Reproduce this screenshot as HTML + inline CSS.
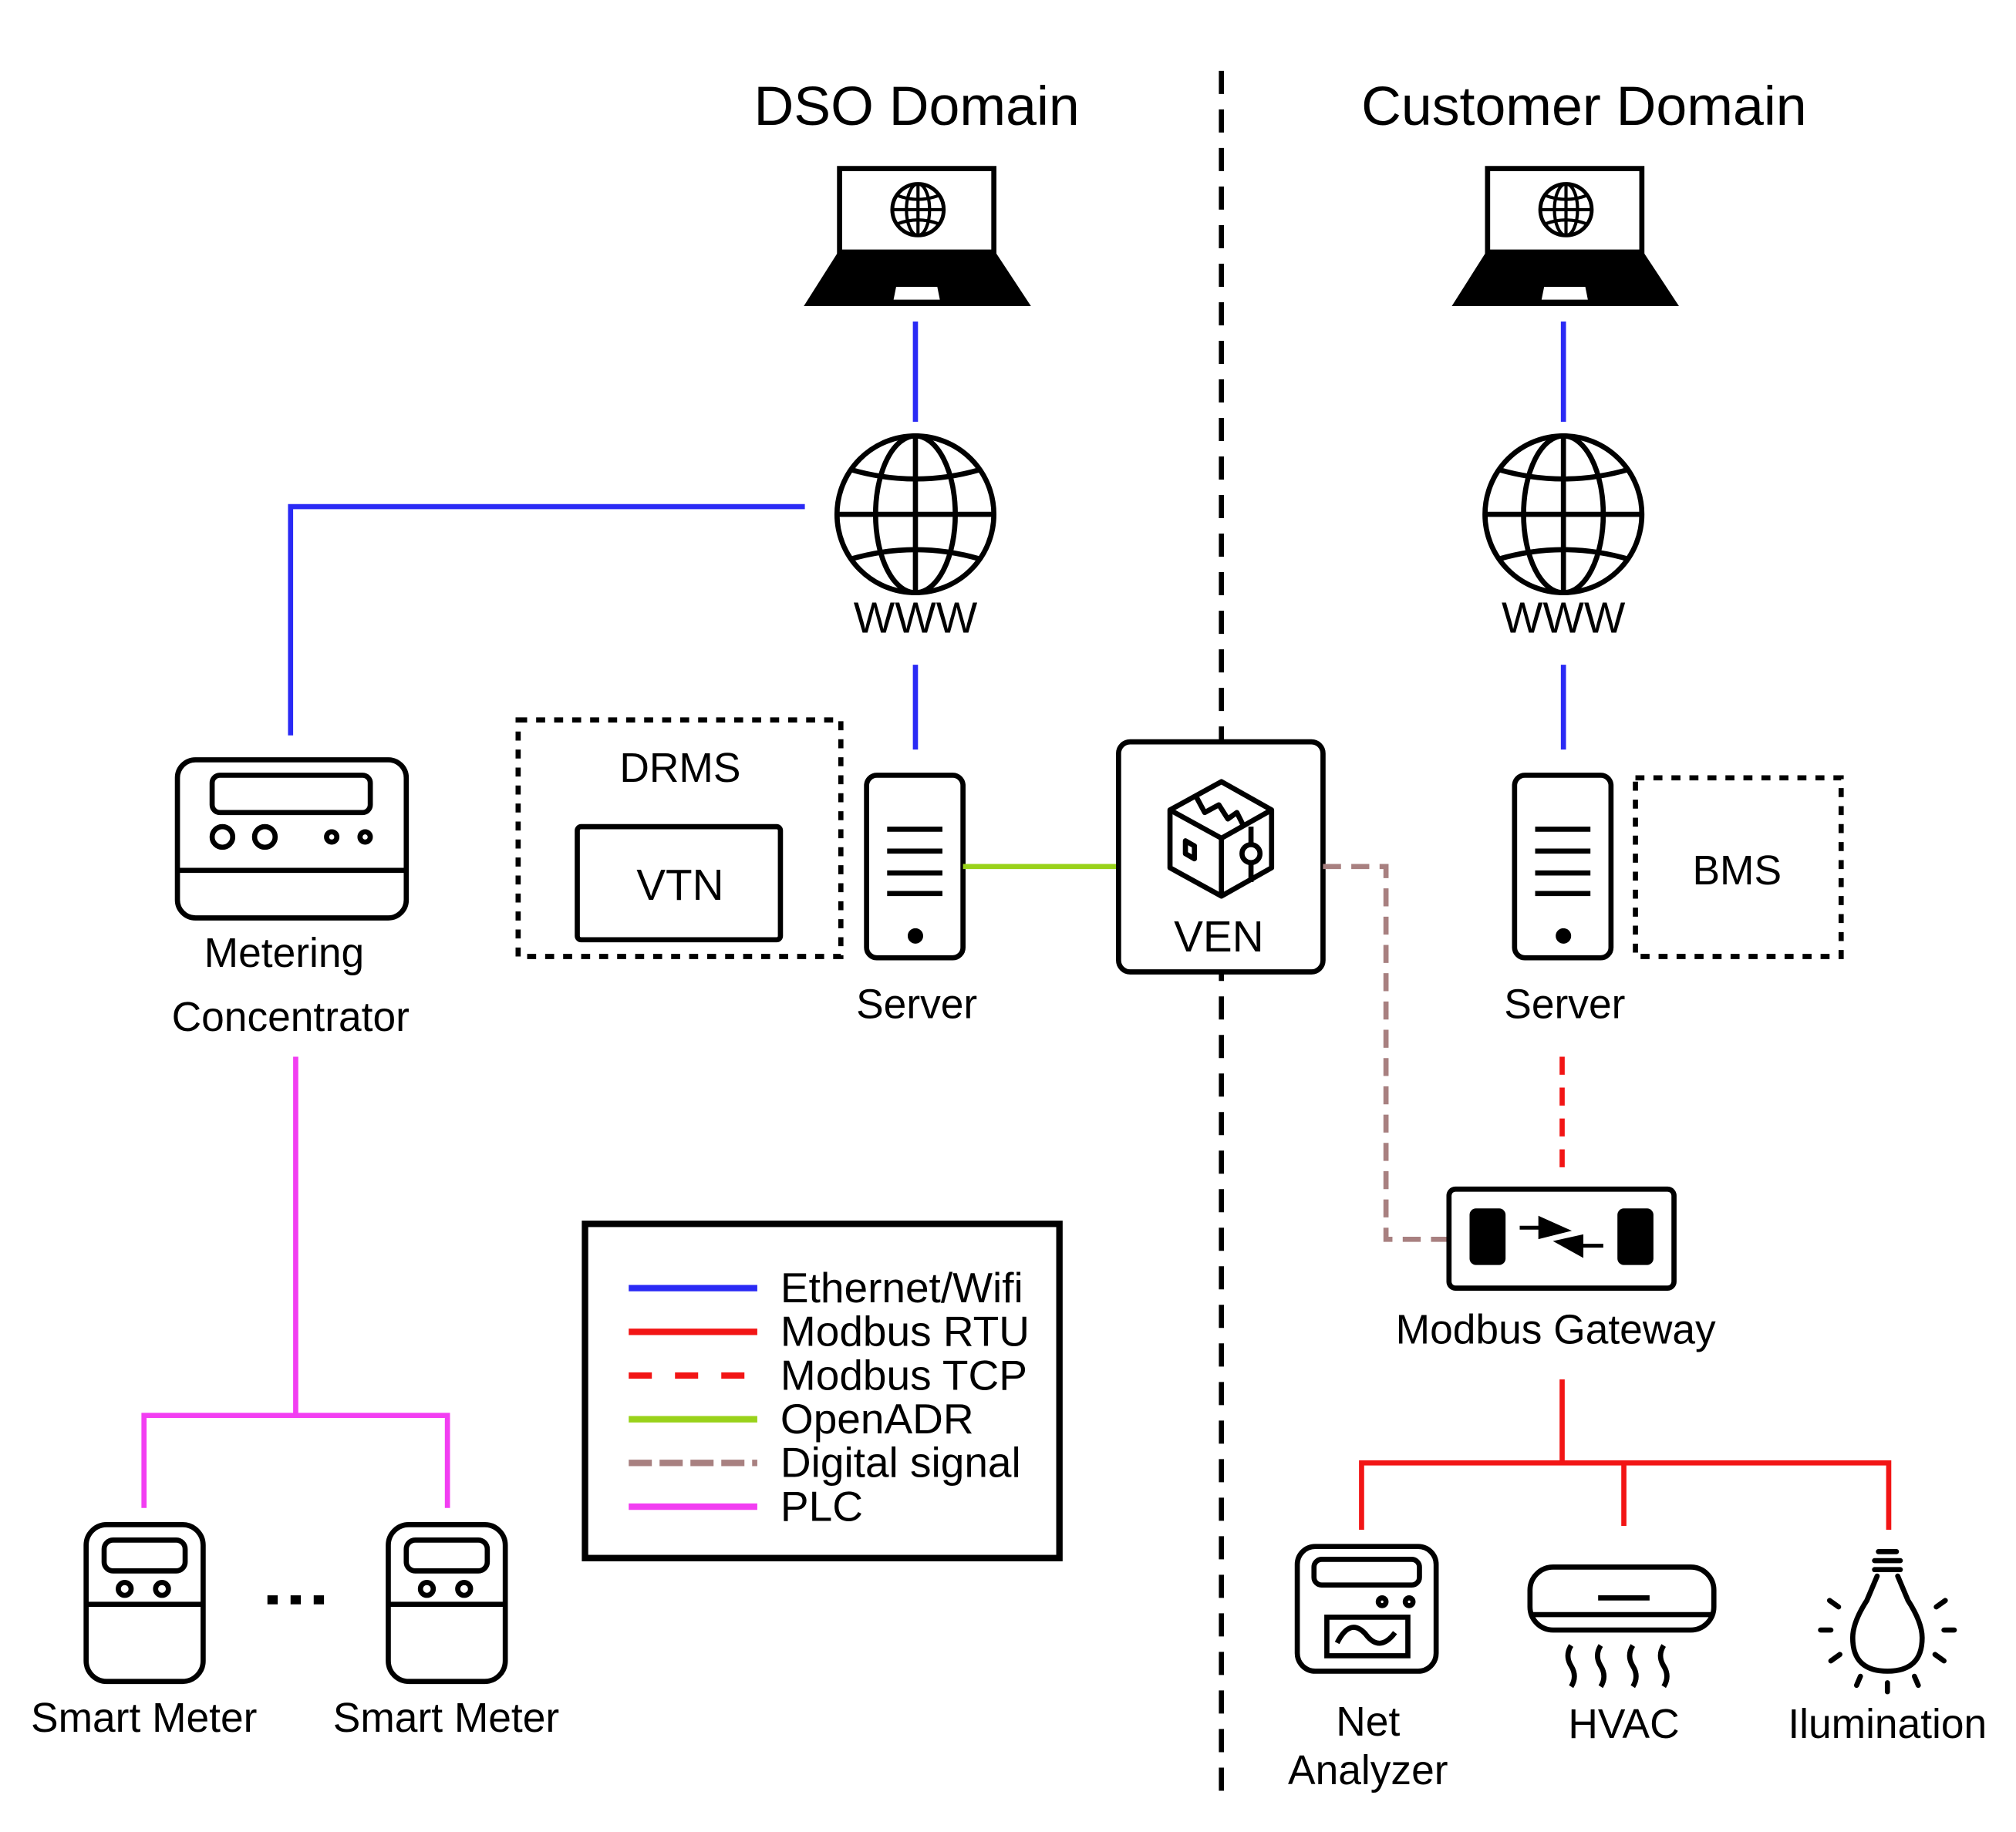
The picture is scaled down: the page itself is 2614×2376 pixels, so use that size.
<!DOCTYPE html>
<html><head><meta charset="utf-8"><style>
html,body{margin:0;padding:0;background:#fff}
svg{display:block}
text{font-family:"Liberation Sans",Arial,sans-serif;fill:#000}
</style></head><body>
<svg width="2614" height="2376" viewBox="0 0 1568 1425" xmlns="http://www.w3.org/2000/svg">
<rect width="1568" height="1425" fill="#fff"/>
<text x="713" y="97" font-size="43" text-anchor="middle">DSO Domain</text>
<text x="1232" y="97" font-size="43" text-anchor="middle">Customer Domain</text>
<line x1="950" y1="55" x2="950" y2="1395" stroke="#000" stroke-width="4" stroke-dasharray="18,12"/>

<g id="lap" fill="none" stroke="#000">
 <rect x="653" y="131" width="120" height="65" stroke-width="4"/>
 <polygon points="653,196 773,196 800,237 627,237" fill="#000" stroke="#000" stroke-width="2"/>
 <polygon points="697,223 729,223 731,233 695,233" fill="#fff" stroke="none"/>
 <circle cx="714" cy="163" r="20" stroke-width="3"/>
 <ellipse cx="714" cy="163" rx="9" ry="20" stroke-width="2.5"/>
 <line x1="714" y1="143" x2="714" y2="183" stroke-width="2.5"/>
 <line x1="694" y1="163" x2="734" y2="163" stroke-width="2.5"/>
 <path d="M698 152 Q714 158 730 152 M698 174 Q714 168 730 174" stroke-width="2.5"/>
</g>
<use href="#lap" transform="translate(504,0)"/>

<g stroke="#2a2af5" stroke-width="4" fill="none">
 <line x1="712" y1="250" x2="712" y2="328"/>
 <line x1="712" y1="517" x2="712" y2="583"/>
 <line x1="1216" y1="250" x2="1216" y2="328"/>
 <line x1="1216" y1="517" x2="1216" y2="583"/>
 <polyline points="626,394 226,394 226,572"/>
</g>

<g id="glb" fill="none" stroke="#000" stroke-width="4">
 <circle cx="712" cy="400" r="61"/>
 <ellipse cx="712" cy="400" rx="31" ry="61"/>
 <line x1="712" y1="339" x2="712" y2="461"/>
 <line x1="651" y1="400" x2="773" y2="400"/>
 <path d="M661 365 Q712 380 763 365 M661 435 Q712 420 763 435"/>
</g>
<use href="#glb" transform="translate(504,0)"/>
<text x="712" y="492" font-size="34" text-anchor="middle">WWW</text>
<text x="1216" y="492" font-size="34" text-anchor="middle">WWW</text>

<g fill="none" stroke="#000" stroke-width="4">
 <rect x="138" y="591" width="178" height="123" rx="14"/>
 <rect x="165" y="603" width="123" height="29" rx="6"/>
 <circle cx="173" cy="651" r="8"/><circle cx="206" cy="651" r="8"/>
 <circle cx="258" cy="651" r="4"/><circle cx="284" cy="651" r="4"/>
 <line x1="138" y1="677" x2="316" y2="677"/>
</g>
<text x="221" y="752" font-size="32" text-anchor="middle">Metering</text>
<text x="226" y="802" font-size="32" text-anchor="middle">Concentrator</text>

<g stroke="#f23ef2" stroke-width="4" fill="none">
 <line x1="230" y1="822" x2="230" y2="1101"/>
 <polyline points="112,1173 112,1101 348,1101 348,1173"/>
</g>
<g id="sm" fill="none" stroke="#000" stroke-width="4">
 <rect x="67" y="1186" width="91" height="122" rx="16"/>
 <rect x="81" y="1198" width="63" height="24" rx="7"/>
 <circle cx="97" cy="1236" r="5"/><circle cx="126" cy="1236" r="5"/>
 <line x1="67" y1="1248" x2="158" y2="1248"/>
</g>
<use href="#sm" transform="translate(235,0)"/>
<g fill="#000"><rect x="208" y="1241" width="8" height="7"/><rect x="226" y="1241" width="8" height="7"/><rect x="244" y="1241" width="8" height="7"/></g>
<text x="112" y="1347" font-size="32" text-anchor="middle">Smart Meter</text>
<text x="347" y="1347" font-size="32" text-anchor="middle">Smart Meter</text>

<rect x="403" y="560" width="251" height="184" fill="none" stroke="#000" stroke-width="4" stroke-dasharray="7,7"/>
<text x="529" y="608" font-size="32" text-anchor="middle">DRMS</text>
<rect x="449" y="643" width="158" height="88" fill="none" stroke="#000" stroke-width="4" rx="3"/>
<text x="529" y="700" font-size="34" text-anchor="middle">VTN</text>

<g id="srv" fill="none" stroke="#000" stroke-width="4">
 <rect x="674" y="603" width="75" height="142" rx="8"/>
 <line x1="690" y1="645" x2="733" y2="645"/><line x1="690" y1="662" x2="733" y2="662"/>
 <line x1="690" y1="679" x2="733" y2="679"/><line x1="690" y1="695" x2="733" y2="695"/>
 <circle cx="712" cy="728" r="4" fill="#000"/>
</g>
<use href="#srv" transform="translate(504,0)"/>
<text x="713" y="792" font-size="32" text-anchor="middle">Server</text>
<text x="1217" y="792" font-size="32" text-anchor="middle">Server</text>

<rect x="1272" y="605" width="160" height="139" fill="none" stroke="#000" stroke-width="4" stroke-dasharray="7,7"/>
<text x="1351" y="688" font-size="32" text-anchor="middle">BMS</text>

<line x1="749" y1="674" x2="869" y2="674" stroke="#99d21a" stroke-width="4"/>

<rect x="870" y="577" width="159" height="179" rx="9" fill="#fff" stroke="#000" stroke-width="4"/>
<g fill="none" stroke="#000" stroke-width="4" stroke-linejoin="round">
 <polygon points="950,608 989,630 989,675 950,697 910,675 910,630"/>
 <polyline points="910,630 950,652 989,630"/>
 <line x1="950" y1="652" x2="950" y2="697"/>
 <polyline points="930,619 937,632 948,626 955,637 962,632 967,642"/>
 <polygon points="922,654 929,658 929,668 922,664"/>
 <line x1="973" y1="643" x2="973" y2="686"/>
 <circle cx="973" cy="664" r="7" fill="#fff"/>
</g>
<text x="948" y="740" font-size="34" text-anchor="middle">VEN</text>

<polyline points="1029,674 1078,674 1078,964 1127,964" fill="none" stroke="#a88080" stroke-width="4" stroke-dasharray="14,8"/>
<line x1="1215" y1="822" x2="1215" y2="915" stroke="#f21515" stroke-width="4" stroke-dasharray="14,10"/>

<rect x="1127" y="925" width="175" height="77" rx="5" fill="#fff" stroke="#000" stroke-width="4"/>
<rect x="1143" y="940" width="28" height="44" rx="5" fill="#000"/>
<rect x="1258" y="940" width="28" height="44" rx="5" fill="#000"/>
<g stroke="#000" stroke-width="3" fill="#000">
 <line x1="1182" y1="955" x2="1205" y2="955"/><polygon points="1198,948 1218,957 1198,962"/>
 <line x1="1222" y1="969" x2="1247" y2="969"/><polygon points="1230,962 1212,966 1230,976"/>
</g>
<text x="1210" y="1045" font-size="32" text-anchor="middle">Modbus Gateway</text>

<g stroke="#f21515" stroke-width="4" fill="none">
 <line x1="1215" y1="1073" x2="1215" y2="1138"/>
 <polyline points="1059,1190 1059,1138 1469,1138 1469,1190"/>
 <line x1="1263" y1="1138" x2="1263" y2="1187"/>
</g>

<g fill="none" stroke="#000" stroke-width="4">
 <rect x="1009" y="1203" width="108" height="97" rx="14"/>
 <rect x="1022" y="1213" width="82" height="20" rx="6"/>
 <circle cx="1075" cy="1246" r="3"/><circle cx="1096" cy="1246" r="3"/>
 <rect x="1032" y="1258" width="63" height="30"/>
 <path d="M1040 1278 Q1050 1258 1062 1271 Q1073 1286 1085 1270"/>
</g>
<text x="1064" y="1350" font-size="32" text-anchor="middle">Net</text>
<text x="1064" y="1388" font-size="32" text-anchor="middle">Analyzer</text>

<g fill="none" stroke="#000" stroke-width="4">
 <rect x="1190" y="1219" width="143" height="49" rx="18"/>
 <line x1="1190" y1="1256" x2="1333" y2="1256"/>
 <line x1="1243" y1="1243" x2="1283" y2="1243"/>
 <path d="M1222 1280 q-5 8 0 16 q5 8 0 16 M1245 1280 q-5 8 0 16 q5 8 0 16 M1270 1280 q-5 8 0 16 q5 8 0 16 M1294 1280 q-5 8 0 16 q5 8 0 16"/>
</g>
<text x="1263" y="1352" font-size="32" text-anchor="middle">HVAC</text>

<g fill="none" stroke="#000" stroke-width="4" stroke-linecap="round">
 <line x1="1461" y1="1207" x2="1475" y2="1207"/>
 <line x1="1458" y1="1214" x2="1478" y2="1214"/>
 <line x1="1458" y1="1221" x2="1478" y2="1221"/>
 <path d="M1460 1226 L1452 1245 Q1441 1262 1441 1274 Q1441 1300 1468 1300 Q1495 1300 1495 1274 Q1495 1262 1484 1245 L1476 1226"/>
 <line x1="1423" y1="1245" x2="1430" y2="1250"/><line x1="1513" y1="1245" x2="1506" y2="1250"/>
 <line x1="1416" y1="1268" x2="1424" y2="1268"/><line x1="1512" y1="1268" x2="1520" y2="1268"/>
 <line x1="1424" y1="1292" x2="1431" y2="1287"/><line x1="1512" y1="1292" x2="1505" y2="1287"/>
 <line x1="1444" y1="1311" x2="1447" y2="1304"/><line x1="1492" y1="1311" x2="1489" y2="1304"/>
 <line x1="1468" y1="1309" x2="1468" y2="1316"/>
</g>
<text x="1468" y="1352" font-size="32" text-anchor="middle">Ilumination</text>

<rect x="455" y="952" width="369" height="260" fill="none" stroke="#000" stroke-width="5"/>
<g stroke-width="5">
 <line x1="489" y1="1002" x2="589" y2="1002" stroke="#2a2af5"/>
 <line x1="489" y1="1036" x2="589" y2="1036" stroke="#f21515"/>
 <line x1="489" y1="1070" x2="580" y2="1070" stroke="#f21515" stroke-dasharray="18,18"/>
 <line x1="489" y1="1104" x2="589" y2="1104" stroke="#99d21a"/>
 <line x1="489" y1="1138" x2="589" y2="1138" stroke="#a88080" stroke-dasharray="18,6"/>
 <line x1="489" y1="1172" x2="589" y2="1172" stroke="#f23ef2"/>
</g>
<g font-size="33">
 <text x="607" y="1013">Ethernet/Wifi</text>
 <text x="607" y="1047">Modbus RTU</text>
 <text x="607" y="1081">Modbus TCP</text>
 <text x="607" y="1115">OpenADR</text>
 <text x="607" y="1149">Digital signal</text>
 <text x="607" y="1183">PLC</text>
</g>
</svg>
</body></html>
